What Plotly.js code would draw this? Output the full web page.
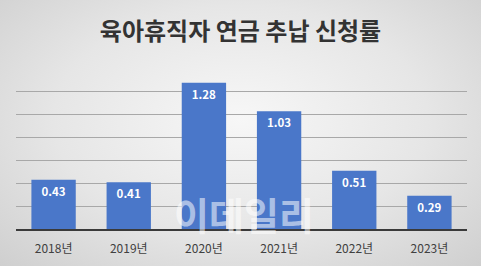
<!DOCTYPE html>
<html>
<head>
<meta charset="utf-8">
<script src="https://cdn.plot.ly/plotly-3.0.1.min.js"></script>
<style>
html,body{margin:0;padding:0;}
body{width:481px;height:266px;background:radial-gradient(ellipse at 50% 45%, #f7f7f7 0%, #e6e6e6 55%, #cfcfcf 100%);}
#chart{width:481px;height:266px;}
</style>
</head>
<body>
<div id="chart"></div>
<script>
const categories = ["2018년","2019년","2020년","2021년","2022년","2023년"];
const values = [0.43, 0.41, 1.28, 1.03, 0.51, 0.29];
const labels = ["0.43","0.41","1.28","1.03","0.51","0.29"];
const chartTitle = "육아휴직자 연금 추납 신청률";
const watermark = "이데일리";

const trace = {
  type: "bar",
  x: categories,
  y: values,
  text: labels,
  textposition: "inside",
  insidetextanchor: "end",
  textangle: 0,
  textfont: {family: "Noto Sans CJK KR, sans-serif", size: 11.5, color: "#ffffff", weight: "bold"},
  marker: {color: "#4a77c9"},
  hoverinfo: "none"
};

const layout = {
  width: 481, height: 266,
  margin: {l: 16, r: 14, t: 69, b: 37, pad: 0},
  paper_bgcolor: "rgba(0,0,0,0)",
  plot_bgcolor: "rgba(0,0,0,0)",
  bargap: 0.41,
  showlegend: false,
  title: {
    text: "<b>" + chartTitle + "</b>",
    font: {family: "Noto Sans CJK KR, sans-serif", size: 24, color: "#333333"},
    x: 0.5, xanchor: "center", y: 0.88, yanchor: "middle"
  },
  xaxis: {
    type: "category",
    showgrid: false,
    showline: true, linecolor: "#3a3a3a", linewidth: 2,
    ticks: "",
    ticklabelstandoff: 8,
    tickfont: {family: "Noto Sans CJK KR, sans-serif", size: 12, color: "#404040"},
    zeroline: false, fixedrange: true
  },
  yaxis: {
    range: [0, 1.4],
    dtick: 0.2,
    showticklabels: false,
    showgrid: true, gridcolor: "#a8a8a8", gridwidth: 1,
    zeroline: false, showline: false, fixedrange: true
  },
  annotations: [{
    text: "<b>" + watermark + "</b>",
    xref: "paper", yref: "paper",
    x: 0.505, y: 0.1, xanchor: "center", yanchor: "middle",
    showarrow: false,
    font: {family: "Noto Sans CJK KR, sans-serif", size: 38, color: "rgba(255,255,255,0.55)"}
  }]
};

Plotly.newPlot("chart", [trace], layout, {staticPlot: true, displayModeBar: false});
</script>
</body>
</html>
